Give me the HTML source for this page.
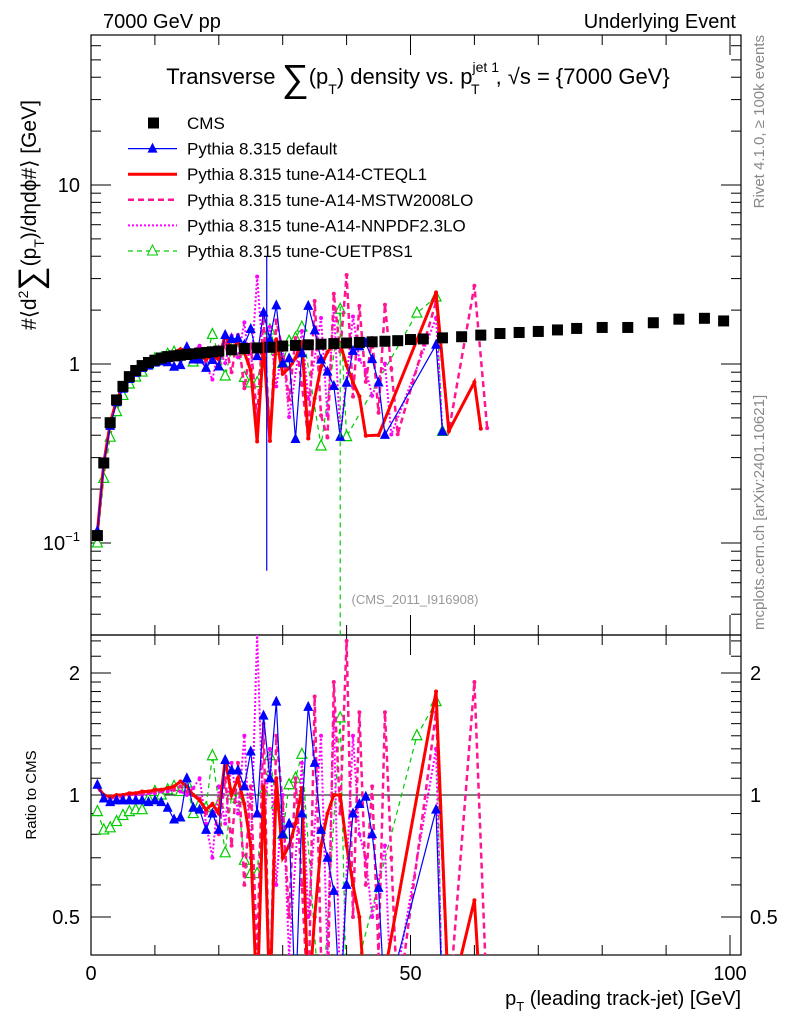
<!DOCTYPE html>
<html><head><meta charset="utf-8"><style>
html,body{margin:0;padding:0;background:#fff;}
svg{display:block;font-family:"Liberation Sans",Arial,sans-serif;}
</style></head><body>
<svg id="chart" width="786" height="1024" viewBox="0 0 786 1024">
<defs>
<clipPath id="clipMain"><rect x="91" y="35" width="650" height="600"/></clipPath>
<clipPath id="clipRatio"><rect x="91" y="635" width="650" height="320"/></clipPath>
</defs>
<text x="103" y="28" font-size="20">7000 GeV pp</text>
<text x="736" y="28" font-size="20" text-anchor="end">Underlying Event</text>
<g id="axes"></g>
<g id="marksMain" clip-path="url(#clipMain)"></g>
<g id="marksRatio" clip-path="url(#clipRatio)"></g>
<text x="418" y="84" font-size="22" text-anchor="middle">Transverse <tspan font-size="38" dy="7">∑</tspan><tspan dy="-7">(p</tspan><tspan font-size="14" dy="10">T</tspan><tspan dy="-10">) density vs. p</tspan><tspan font-size="14" dy="-12">jet 1</tspan><tspan font-size="14" dx="-28" dy="22">T</tspan><tspan dx="16" dy="-10">, √s = {7000 GeV}</tspan></text>
<g id="legend"></g>
<text x="415" y="604" font-size="13" fill="#999" text-anchor="middle">(CMS_2011_I916908)</text>
<text transform="translate(764,35) rotate(-90)" font-size="15" fill="#888" text-anchor="end">Rivet 4.1.0, ≥ 100k events</text>
<text transform="translate(764,630) rotate(-90)" font-size="15" fill="#888">mcplots.cern.ch [arXiv:2401.10621]</text>
<text transform="translate(36,215) rotate(-90)" font-size="21" text-anchor="middle">#⟨d<tspan font-size="14" dy="-8">2</tspan><tspan font-size="34" dy="14">∑</tspan><tspan dy="-6">(p</tspan><tspan font-size="14" dy="8">T</tspan><tspan dy="-8">)/dηdϕ#⟩ [GeV]</tspan></text>
<text transform="translate(36,795) rotate(-90)" font-size="15" text-anchor="middle">Ratio to CMS</text>
<text x="741" y="1005" font-size="20" text-anchor="end">p<tspan font-size="13" dy="6">T</tspan><tspan dy="-6"> (leading track-jet) [GeV]</tspan></text>
</svg>
<script>
const NS="http://www.w3.org/2000/svg";
// ---- data ----
const cmsPt=[1,2,3,4,5,6,7,8,9,10,11,12,13,14,15,16,17,18,19,20,22,24,26,28,30,32,34,36,38,40,42,44,46,48,50,52,55,58,61,64,67,70,73,76,80,84,88,92,96,99];
const cmsVal=[0.11,0.28,0.47,0.63,0.75,0.85,0.92,0.98,1.02,1.05,1.08,1.1,1.11,1.12,1.13,1.14,1.15,1.16,1.17,1.18,1.2,1.22,1.23,1.24,1.26,1.27,1.28,1.29,1.3,1.31,1.32,1.33,1.34,1.35,1.37,1.38,1.4,1.42,1.45,1.48,1.5,1.52,1.55,1.58,1.6,1.6,1.7,1.78,1.8,1.74];
const mcPt=[1,2,3,4,5,6,7,8,9,10,11,12,13,14,15,16,17,18,19,20,21,22,23,24,25,26,27,28,29,30,31,32,33,34,35,36,37,38,39,40,41,42,43,44,45,46,47,48,49,50,51,52,53,54,55,56,57,58,59,60,61,62];
const ratioDefault=[1.06,0.98,0.96,0.97,0.97,0.97,0.97,0.97,0.96,0.97,0.96,0.93,0.87,0.88,1.1,0.93,0.92,0.82,0.9,0.82,1.22,1.15,1.15,1.05,1.28,0.9,1.57,1.1,1.7,0.8,0.85,0.3,0.9,1.65,1.2,0.82,0.7,0.58,0.3,0.6,0.9,0.95,0.99,0.8,0.59,0.3,null,null,null,null,null,null,null,0.92,0.3,null,null,null,null,null,null,null];
const ratioCTEQL1=[1.05,1.0,0.99,1.0,1.0,1.01,1.01,1.02,1.02,1.03,1.03,1.04,1.05,1.08,1.05,1.0,0.97,0.92,0.95,0.9,1.22,1.0,1.1,0.95,0.75,0.3,1.05,0.3,1.1,0.7,0.75,0.85,1.04,0.3,0.5,0.75,0.9,1.0,1.0,0.75,0.6,0.5,0.3,null,0.3,null,null,null,null,null,null,null,null,1.8,null,0.3,null,null,null,0.55,0.3,null];
const ratioMSTW=[1.05,0.98,0.98,0.99,1.0,1.0,1.01,1.01,1.02,1.02,1.03,1.04,1.03,1.05,1.02,1.0,0.98,0.9,0.95,0.8,1.1,0.75,1.2,0.6,1.05,0.4,1.5,0.3,1.4,0.95,0.5,1.1,0.6,0.3,1.75,0.4,0.3,1.9,0.9,2.4,0.5,1.6,0.6,1.05,0.4,1.6,0.7,0.3,null,null,null,null,null,1.6,null,0.3,null,null,null,1.9,null,0.3];
const ratioNNPDF=[1.05,0.99,0.98,0.98,0.99,1.0,1.0,1.0,1.01,1.01,1.02,1.02,1.03,1.02,1.0,1.04,1.1,0.85,0.7,1.05,0.85,1.2,0.9,1.4,0.7,2.5,0.8,1.3,0.6,1.0,0.4,null,1.2,0.5,null,1.4,0.4,1.6,0.3,null,1.4,0.8,0.7,0.5,null,0.75,0.3,null,null,null,null,null,null,1.3,0.3,null,null,null,null,null,null,null];
const ratioCUETP8S1=[0.91,0.82,0.83,0.86,0.89,0.91,0.92,0.92,0.98,1.02,1.0,1.03,1.05,1.02,1.07,0.9,0.95,0.93,1.25,0.95,0.72,1.0,0.98,0.69,0.64,0.64,1.02,1.25,0.95,0.8,1.06,1.1,1.26,null,null,0.27,null,null,1.55,0.3,null,null,null,null,null,null,null,null,null,null,1.4,null,null,1.7,0.3,null,null,null,null,null,null,null];
const xTicks=[0,50,100];
const yTicksMain=[0.1,1,10];
const yTickLabelsRatio=[0.5,1,2];
// ---- axes functions ----
const X=v=>91+v*6.39;
const YM=v=>364-179*Math.log10(v);
const YR=v=>795-122*Math.log2(v);
function el(tag,attrs,parent){const e=document.createElementNS(NS,tag);for(const k in attrs)e.setAttribute(k,attrs[k]);parent.appendChild(e);return e;}
const axes=document.getElementById('axes');
const mm=document.getElementById('marksMain');
const mr=document.getElementById('marksRatio');
let f1=el('rect',{x:91,y:35,width:650,height:600,fill:'none',stroke:'#000','stroke-width':1.2},axes);


let f2=el('rect',{x:91,y:635,width:650,height:320,fill:'none',stroke:'#000','stroke-width':1.2},axes);


for(let v=0;v<=100;v+=10){const big=v%50===0;const px=X(v);
 for(const [y0,y1] of [[955,955-(big?20:10)],[635,635+(big?20:10)],[635,635-(big?20:10)],[35,35+(big?20:10)]]){
  const t=el('line',{x1:px,x2:px,y1:y0,y2:y1,stroke:'#000'},axes);
  
  
 }}
for(const v of xTicks){const t=el('text',{x:X(v),y:980,'font-size':20,'text-anchor':'middle'},axes);t.textContent=String(v);
 
 }
for(let d=-2;d<=1;d++){for(let m=1;m<=9;m++){const v=m*Math.pow(10,d);const py=YM(v);if(py<35||py>635)continue;const L=m===1?20:10;
 for(const [x0,x1] of [[91,91+L],[741,741-L]]){const t=el('line',{x1:x0,x2:x1,y1:py,y2:py,stroke:'#000'},axes);
  
  }}}
for(const v of yTicksMain){const py=YM(v);let t;
 if(v===0.1){t=el('text',{x:80,y:py+7,'font-size':20,'text-anchor':'end'},axes);t.innerHTML='10<tspan font-size="13" dy="-9">−1</tspan>';}
 else{t=el('text',{x:80,y:py+7,'font-size':20,'text-anchor':'end'},axes);t.textContent=String(v);}
 
 }
for(const v of [0.5,0.6,0.7,0.8,0.9,1,1.1,1.2,1.3,1.4,1.5,1.6,1.7,1.8,1.9,2,2.2,2.4]){const py=YR(v);if(py<635||py>955)continue;const L=(v===0.5||v===1||v===2)?20:10;
 for(const [x0,x1] of [[91,91+L],[741,741-L]]){const t=el('line',{x1:x0,x2:x1,y1:py,y2:py,stroke:'#000'},axes);
  
  }}
for(const v of yTickLabelsRatio){const py=YR(v);
 const t=el('text',{x:80,y:py+7,'font-size':20,'text-anchor':'end'},axes);t.textContent=String(v);
 
 
 const t2=el('text',{x:750,y:py+7,'font-size':20},axes);t2.textContent=String(v);
 
 }
const unity=el('line',{x1:91,x2:741,y1:YR(1),y2:YR(1),stroke:'#000'},axes);


function cmsAt(p){for(let i=0;i<cmsPt.length-1;i++){if(p>=cmsPt[i]&&p<=cmsPt[i+1]){const f=(p-cmsPt[i])/(cmsPt[i+1]-cmsPt[i]);return Math.exp(Math.log(cmsVal[i])*(1-f)+Math.log(cmsVal[i+1])*f);}}return cmsVal[cmsVal.length-1];}
const series=[
 {name:'cuetp8s1',r:ratioCUETP8S1,color:'#00cc00',w:1.2,dash:'5,4',marker:'otri'},
 {name:'nnpdf',r:ratioNNPDF,color:'#ff00ff',w:2,dash:'2,2',marker:'dot'},
 {name:'mstw',r:ratioMSTW,color:'#ff1493',w:2.5,dash:'6,4',marker:'dot'},
 {name:'cteql1',r:ratioCTEQL1,color:'#ff0000',w:3,dash:null,marker:'dot'},
 {name:'default',r:ratioDefault,color:'#0000ff',w:1.2,dash:null,marker:'tri'}];
function marker(s,px,py,g){let m;
 if(s.marker==='tri')m=el('polygon',{points:`${px},${py-6} ${px-5},${py+4} ${px+5},${py+4}`,fill:s.color},g);
 else if(s.marker==='otri')m=el('polygon',{points:`${px},${py-6} ${px-5},${py+4} ${px+5},${py+4}`,fill:'#fff',stroke:s.color,'stroke-width':1.2},g);
 else m=el('circle',{cx:px,cy:py,r:2,fill:s.color},g);
 
 }
for(const s of series){
 const pm=[],pr=[];
 for(let i=0;i<mcPt.length;i++){const r=s.r[i];if(r==null)continue;
  const v=r*cmsAt(mcPt[i]);pm.push([X(mcPt[i]),YM(v)]);pr.push([X(mcPt[i]),YR(Math.max(r,0.05))]);}
 for(const [pts,g,nm] of [[pm,mm,'main'],[pr,mr,'ratio']]){
  const a={points:pts.map(p=>p.join(',')).join(' '),fill:'none',stroke:s.color,'stroke-width':s.w};
  if(s.dash)a['stroke-dasharray']=s.dash;
  const l=el('polyline',a,g);
  
  
  for(const p of pts)marker(s,p[0],p[1],g);}
}
for(let i=0;i<cmsPt.length;i++){const px=X(cmsPt[i]),py=YM(cmsVal[i]);
 const r=el('rect',{x:px-5.5,y:py-5.5,width:11,height:11,fill:'#000'},mm);
 
 }
const eb1=el('line',{x1:X(27.5),x2:X(27.5),y1:YM(4),y2:YM(0.07),stroke:'#0000ff','stroke-width':1.2},mm);


const eb2=el('line',{x1:X(39),x2:X(39),y1:YM(2.1),y2:635,stroke:'#00cc00','stroke-width':1.2,'stroke-dasharray':'5,4'},mm);


const leg=document.getElementById('legend');
const legItems=[['CMS','#000',null,'sq',2],['Pythia 8.315 default','#0000ff',null,'tri',1.2],['Pythia 8.315 tune-A14-CTEQL1','#ff0000',null,null,3],['Pythia 8.315 tune-A14-MSTW2008LO','#ff1493','6,4',null,2.5],['Pythia 8.315 tune-A14-NNPDF2.3LO','#ff00ff','2,2',null,2],['Pythia 8.315 tune-CUETP8S1','#00cc00','5,4','otri',1.2]];
legItems.forEach((it,i)=>{const y=123+i*25.6;
 const g=el('g',{},leg);
 
 
 if(it[3]!=='sq'){const a={x1:128,x2:177,y1:y,y2:y,stroke:it[1],'stroke-width':it[4]};if(it[2])a['stroke-dasharray']=it[2];el('line',a,g);}
 if(it[3]==='sq')el('rect',{x:148,y:y-5.5,width:11,height:11,fill:'#000'},g);
 if(it[3]==='tri')el('polygon',{points:`152.5,${y-6} 147.5,${y+4} 157.5,${y+4}`,fill:it[1]},g);
 if(it[3]==='otri')el('polygon',{points:`152.5,${y-6} 147.5,${y+4} 157.5,${y+4}`,fill:'#fff',stroke:it[1]},g);
 const t=el('text',{x:187,y:y+6,'font-size':17},g);t.textContent=it[0];});
</script>
</body></html>
